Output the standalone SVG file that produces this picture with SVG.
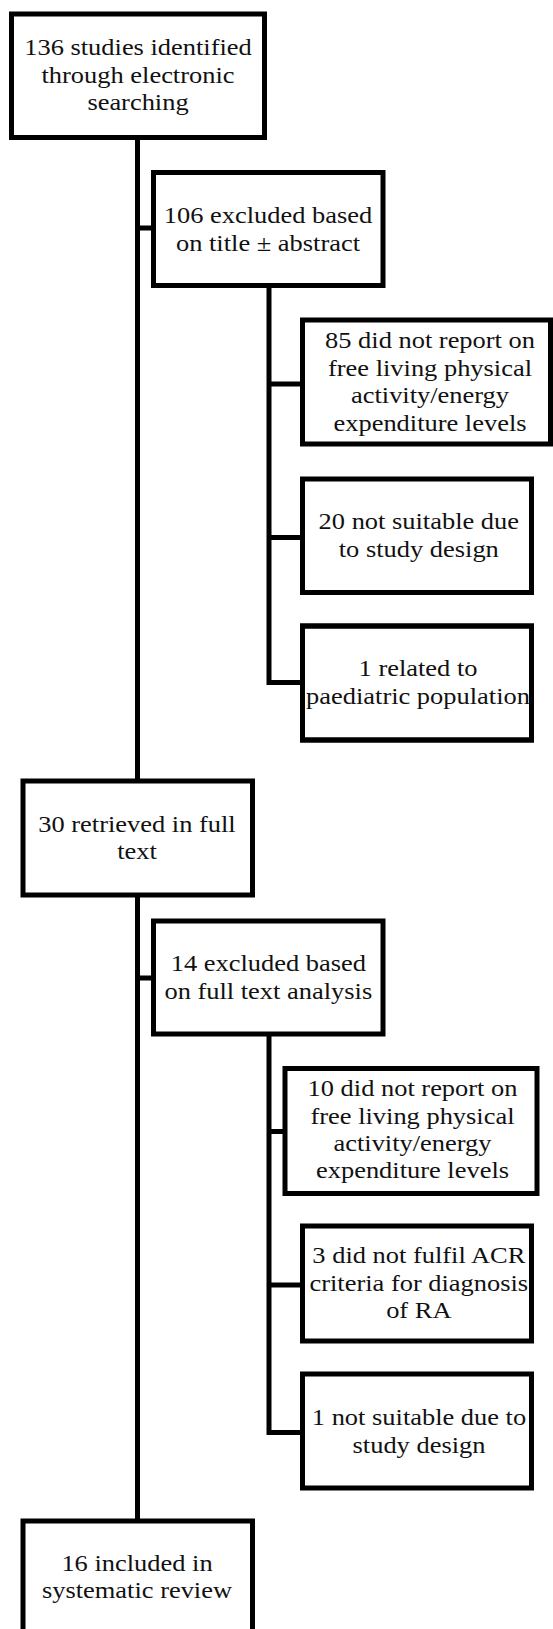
<svg xmlns="http://www.w3.org/2000/svg" width="553" height="1629" viewBox="0 0 553 1629">
<style>
.box{fill:#fff;stroke:#000;stroke-width:5}
.conn{fill:none;stroke:#000;stroke-width:5;stroke-linejoin:miter;stroke-linecap:butt}
.t{font-family:"Liberation Serif","Times New Roman",serif;font-size:23px;fill:#111;text-anchor:middle}
</style>
<rect width="553" height="1629" fill="#fff"/>
<g id="connectors">
<path class="conn" d="M137.5 137.5 V1521"/>
<path class="conn" d="M137.5 228 H153.5"/>
<path class="conn" d="M137.5 978 H153.5"/>
<path class="conn" d="M269 285.5 V682.5 H302.5"/>
<path class="conn" d="M269 384 H302.5"/>
<path class="conn" d="M269 537.5 H302.5"/>
<path class="conn" d="M269 1034 V1432.5 H302.5"/>
<path class="conn" d="M269 1131.5 H285"/>
<path class="conn" d="M269 1285 H302.5"/>
</g>
<g id="n1">
<rect class="box" x="11.5" y="14" width="253" height="123.5"/>
<text class="t" transform="translate(138,0) scale(1.15,1)"><tspan x="0" y="55">136 studies identified</tspan><tspan x="0" y="82.7">through electronic</tspan><tspan x="0" y="110">searching</tspan></text>
</g>
<g id="n2">
<rect class="box" x="153.5" y="172.5" width="229.5" height="113"/>
<text class="t" transform="translate(268,0) scale(1.15,1)"><tspan x="0" y="222.7">106 excluded based</tspan><tspan x="0" y="250.7">on title ± abstract</tspan></text>
</g>
<g id="n3">
<rect class="box" x="302.5" y="320" width="248" height="124"/>
<text class="t" transform="translate(430,0) scale(1.15,1)"><tspan x="0" y="348.3">85 did not report on</tspan><tspan x="0" y="376">free living physical</tspan><tspan x="0" y="403.3">activity/energy</tspan><tspan x="0" y="430.7">expenditure levels</tspan></text>
</g>
<g id="n4">
<rect class="box" x="302.5" y="479" width="229" height="113.5"/>
<text class="t" transform="translate(418.8,0) scale(1.15,1)"><tspan x="0" y="529.3">20 not suitable due</tspan><tspan x="0" y="556.7">to study design</tspan></text>
</g>
<g id="n5">
<rect class="box" x="302.5" y="626" width="229" height="114"/>
<text class="t" transform="translate(418,0) scale(1.15,1)"><tspan x="0" y="676">1 related to</tspan><tspan x="0" y="704">paediatric population</tspan></text>
<rect x="302.5" y="626" width="229" height="114" fill="none" stroke="#000" stroke-width="5"/>
</g>
<g id="n6">
<rect class="box" x="23" y="781" width="229.5" height="114"/>
<text class="t" transform="translate(137,0) scale(1.15,1)"><tspan x="0" y="831.7">30 retrieved in full</tspan><tspan x="0" y="859.3">text</tspan></text>
</g>
<g id="n7">
<rect class="box" x="153.5" y="921" width="229.5" height="113"/>
<text class="t" transform="translate(268.3,0) scale(1.15,1)"><tspan x="0" y="971">14 excluded based</tspan><tspan x="0" y="999.3">on full text analysis</tspan></text>
</g>
<g id="n8">
<rect class="box" x="285" y="1068.5" width="252" height="125"/>
<text class="t" transform="translate(412.5,0) scale(1.15,1)"><tspan x="0" y="1095.7">10 did not report on</tspan><tspan x="0" y="1124">free living physical</tspan><tspan x="0" y="1151">activity/energy</tspan><tspan x="0" y="1178.3">expenditure levels</tspan></text>
</g>
<g id="n9">
<rect class="box" x="302.5" y="1226" width="229" height="115"/>
<text class="t" transform="translate(418.8,0) scale(1.15,1)"><tspan x="0" y="1263.3">3 did not fulfil ACR</tspan><tspan x="0" y="1290.7">criteria for diagnosis</tspan><tspan x="0" y="1318.3">of RA</tspan></text>
</g>
<g id="n10">
<rect class="box" x="302.5" y="1374" width="229" height="114"/>
<text class="t" transform="translate(419,0) scale(1.15,1)"><tspan x="0" y="1425">1 not suitable due to</tspan><tspan x="0" y="1452.7">study design</tspan></text>
</g>
<g id="n11">
<rect class="box" x="23" y="1521" width="229.5" height="120"/>
<text class="t" transform="translate(137,0) scale(1.15,1)"><tspan x="0" y="1571">16 included in</tspan><tspan x="0" y="1598.3">systematic review</tspan></text>
</g>
</svg>
